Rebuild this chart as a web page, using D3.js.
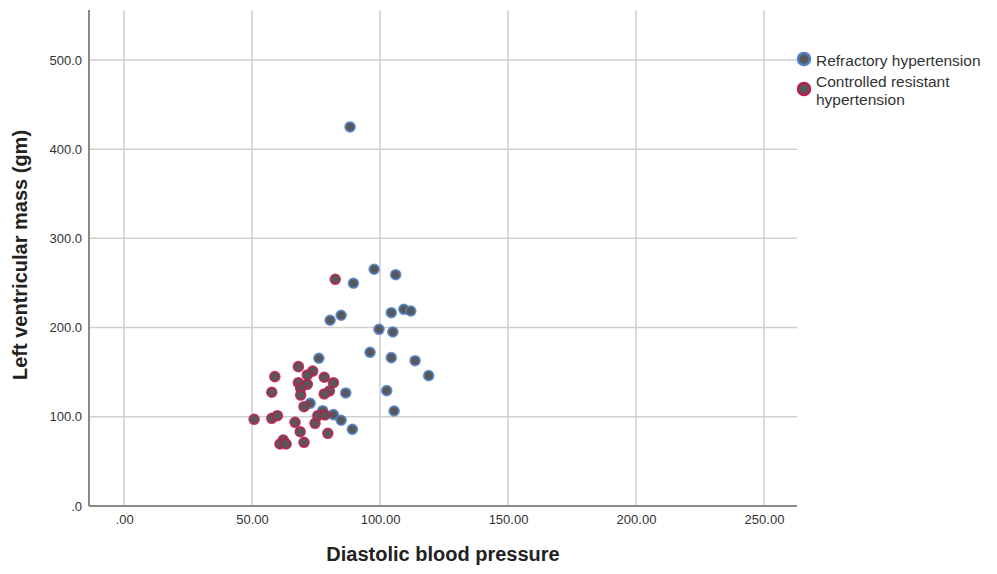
<!DOCTYPE html>
<html>
<head>
<meta charset="utf-8">
<script src="https://cdn.jsdelivr.net/npm/d3@7"></script>
<style>
  body { margin: 0; background: #fff; }
  svg { font-family: "Liberation Sans", Arial, sans-serif; }
</style>
</head>
<body>
<svg id="chart" width="997" height="574"></svg>
<script>
// Refractory hypertension: [diastolic BP, LV mass]
const refractory = [
  [88.3, 424.9], [97.7, 265.4], [106.1, 259.3], [89.6, 249.7], [109.3, 220.5],
  [112.0, 218.6], [104.4, 216.7], [84.8, 213.8], [80.5, 208.2], [99.6, 198.1],
  [105.0, 195.1], [96.1, 172.3], [104.4, 166.3], [113.7, 162.9], [76.1, 165.6],
  [119.0, 146.1], [86.6, 126.7], [102.6, 129.3], [105.5, 106.5], [72.7, 115.1],
  [77.6, 106.8], [81.8, 102.4], [84.8, 96.1], [89.2, 86.0]
];
// Controlled resistant hypertension
const controlled = [
  [82.5, 254.1], [68.1, 156.2], [73.7, 151.3], [71.6, 146.9], [58.9, 145.0],
  [78.2, 144.3], [81.8, 138.2], [68.1, 138.2], [71.6, 136.4], [80.2, 128.9],
  [78.2, 125.6], [69.0, 131.9], [69.0, 124.4], [57.7, 127.5], [70.3, 111.3],
  [50.8, 97.2], [57.7, 98.3], [59.9, 101.2], [75.7, 101.2], [78.5, 102.0],
  [66.8, 93.8], [74.6, 92.7], [68.8, 83.3], [79.6, 81.5], [62.2, 74.0],
  [60.9, 69.5], [63.3, 69.5], [70.3, 71.4]
];
const xTicks = [0, 50, 100, 150, 200, 250];
const yTicks = [0, 100, 200, 300, 400, 500];
const seriesNames = ["Refractory hypertension", "Controlled resistant hypertension"];

const svg = d3.select("#chart");
const plotL = 89, plotR = 797, plotT = 10, plotB = 506;

const x = d3.scaleLinear().domain([-13.7, 262.9]).range([plotL, plotR]);
const y = d3.scaleLinear().domain([0, 556]).range([plotB, plotT]);

const fmtX = v => v === 0 ? ".00" : d3.format(".2f")(v);
const fmtY = v => v === 0 ? ".0" : d3.format(".1f")(v);

// gridlines
const grid = svg.append("g");
grid.selectAll(".gx").data(xTicks).enter().append("line")
  .attr("x1", d => x(d)).attr("x2", d => x(d))
  .attr("y1", plotT).attr("y2", plotB)
  .attr("stroke", "#cfcfcf").attr("stroke-width", 1.5);
grid.selectAll(".gy").data(yTicks.filter(d => d > 0)).enter().append("line")
  .attr("x1", plotL).attr("x2", plotR)
  .attr("y1", d => y(d)).attr("y2", d => y(d))
  .attr("stroke", "#cfcfcf").attr("stroke-width", 1.5);

// axes
const xAxis = d3.axisBottom(x).tickValues(xTicks).tickFormat(fmtX).tickSize(0).tickPadding(9);
const gx = svg.append("g").attr("transform", `translate(0,${plotB})`).call(xAxis);
gx.select(".domain").remove();
gx.selectAll("text").attr("font-size", 13).attr("fill", "#333");

const yAxis = d3.axisLeft(y).tickValues(yTicks).tickFormat(fmtY).tickSize(0).tickPadding(7);
const gy = svg.append("g").attr("transform", `translate(${plotL},0)`).call(yAxis);
gy.select(".domain").remove();
gy.selectAll("text").attr("font-size", 13).attr("fill", "#333");

svg.append("line").attr("x1", plotL).attr("x2", plotL).attr("y1", plotT).attr("y2", plotB)
  .attr("stroke", "#8a8a8a").attr("stroke-width", 2);
svg.append("line").attr("x1", plotL).attr("x2", plotR).attr("y1", plotB).attr("y2", plotB)
  .attr("stroke", "#8a8a8a").attr("stroke-width", 2);

// points
const colors = ["#4f7fc4", "#b9204c"];
[refractory, controlled].forEach((data, i) => {
  svg.append("g").selectAll("circle").data(data).enter().append("circle")
    .attr("cx", d => x(d[0])).attr("cy", d => y(d[1]))
    .attr("r", 4.8)
    .attr("fill", "#585858")
    .attr("stroke", colors[i]).attr("stroke-width", 2).attr("stroke-opacity", 0.85);
});

// axis titles
svg.append("text").attr("x", (plotL + plotR) / 2).attr("y", 561)
  .attr("text-anchor", "middle").attr("font-size", 20).attr("font-weight", "bold")
  .attr("fill", "#222").text("Diastolic blood pressure");
svg.append("text").attr("transform", "translate(27,255) rotate(-90)")
  .attr("text-anchor", "middle").attr("font-size", 20).attr("font-weight", "bold")
  .attr("fill", "#222").text("Left ventricular mass (gm)");

// legend
const lg = svg.append("g");
lg.append("circle").attr("cx", 804).attr("cy", 59).attr("r", 6)
  .attr("fill", "#585858").attr("stroke", colors[0]).attr("stroke-width", 2.5);
lg.append("text").attr("x", 816).attr("y", 66).attr("font-size", 15.5).attr("fill", "#333")
  .text(seriesNames[0]);
lg.append("circle").attr("cx", 804).attr("cy", 89).attr("r", 6)
  .attr("fill", "#585858").attr("stroke", colors[1]).attr("stroke-width", 2.5);
const t2 = lg.append("text").attr("x", 816).attr("y", 87).attr("font-size", 15.5).attr("fill", "#333");
t2.append("tspan").attr("x", 816).text("Controlled resistant");
t2.append("tspan").attr("x", 816).attr("dy", 18).text("hypertension");
</script>
</body>
</html>
